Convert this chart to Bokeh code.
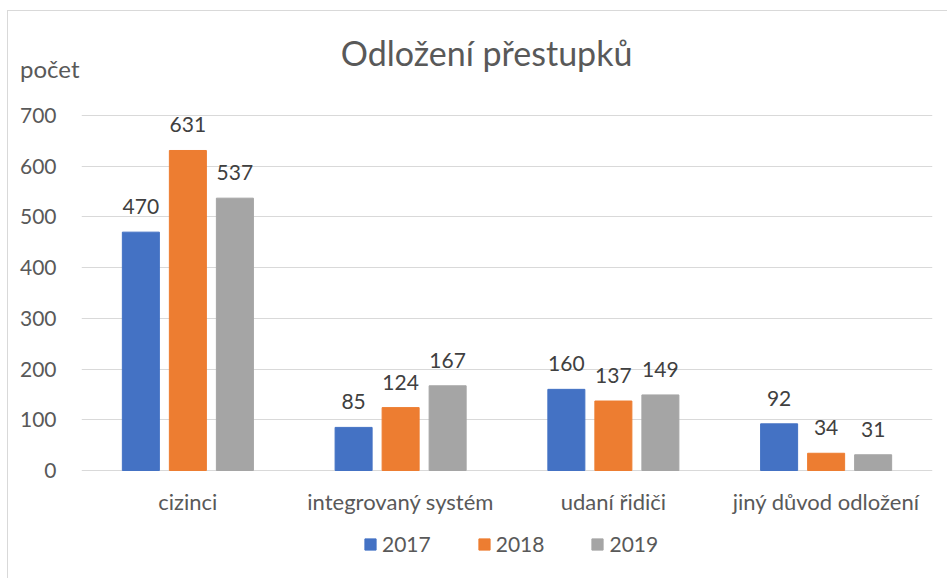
from bokeh.plotting import figure
from bokeh.models import (ColumnDataSource, FactorRange, Range1d, LabelSet, Label,
                          Legend, LegendItem, FixedTicker, LinearAxis)
from bokeh.core.properties import value
from bokeh.transform import dodge
from bokeh.embed import file_html
from bokeh.resources import INLINE

categories = ["cizinci", "integrovaný systém", "udaní řidiči", "jiný důvod odložení"]
years = ["2017", "2018", "2019"]
v2017 = [470, 85, 160, 92]
v2018 = [631, 124, 137, 34]
v2019 = [537, 167, 149, 31]
colors = ["#4472C4", "#ED7D31", "#A5A5A5"]
y_ticks = [0, 100, 200, 300, 400, 500, 600, 700]
title_text = "Odložení přestupků"
y_title = "počet"

FONT = "Lato"
TXT = "#595959"
W, H = 940, 568
# canvas pixel layout: frame spans the whole height; value 0 at y0_px, 700 at y700_px
FRAME_TOP, FRAME_BOTTOM = 19, H
y0_px, y700_px = 459, 104
px_per_unit = (y0_px - y700_px) / 700
y_start = -(FRAME_BOTTOM - y0_px) / px_per_unit
y_end = 700 + (y700_px - FRAME_TOP) / px_per_unit

src = ColumnDataSource(dict(cat=categories, v2017=v2017, v2018=v2018, v2019=v2019,
                            l2017=[str(v) for v in v2017],
                            l2018=[str(v) for v in v2018],
                            l2019=[str(v) for v in v2019]))

p = figure(x_range=FactorRange(*categories, range_padding=0),
           y_range=Range1d(y_start, y_end),
           width=W, height=H, output_backend="svg", toolbar_location=None,
           min_border_left=73, min_border_right=16, min_border_top=FRAME_TOP,
           min_border_bottom=0,
           styles={"margin-left": "7px", "margin-top": "10px",
                   "border-top": "1px solid #d9d9d9",
                   "border-left": "1px solid #d9d9d9"})
p.outline_line_color = None

offsets = [-0.221, 0.0, 0.221]
items = []
for yr, off, col in zip(years, offsets, colors):
    r = p.vbar(x=dodge("cat", off, range=p.x_range), top="v" + yr, bottom=0, width=0.174,
               source=src, fill_color=col, line_color=col)
    items.append(LegendItem(label=yr, renderers=[r]))
    p.add_layout(LabelSet(x=dodge("cat", off, range=p.x_range), y="v" + yr, text="l" + yr,
                          source=src, text_align="center", text_baseline="alphabetic",
                          y_offset=18, text_font=value(FONT), text_font_size="21px",
                          text_color="#404040"))

ticker = FixedTicker(ticks=y_ticks)
p.xgrid.grid_line_color = None
p.ygrid.ticker = ticker
p.ygrid.grid_line_color = "#d9d9d9"
p.ygrid.grid_line_width = 1

xa = p.xaxis[0]
ya = p.yaxis[0]
ya.ticker = ticker
xa.fixed_location = 0
for ax in (xa, ya):
    ax.axis_line_color = None
    ax.major_tick_line_color = None
    ax.minor_tick_line_color = None
    ax.major_tick_out = 0
    ax.major_tick_in = 0
    ax.major_label_text_font = FONT
    ax.major_label_text_color = TXT
xa.major_label_text_font_size = "22px"
ya.major_label_text_font_size = "21px"
xa.major_label_standoff = 17

# y-axis title "počet": the single label of an extra left axis placed next to the frame;
# the numeric axis sits outside it and its labels are pulled back in with a negative standoff
title_tick = 792
ta = LinearAxis(ticker=FixedTicker(ticks=[title_tick]),
                major_label_overrides={title_tick: y_title},
                axis_line_color=None, major_tick_line_color=None,
                minor_tick_line_color=None, major_tick_out=0, major_tick_in=0,
                major_label_standoff=2, major_label_text_font=FONT,
                major_label_text_font_size="24px", major_label_text_color=TXT)
p.left = [ta, ya]
ya.major_label_standoff = -39

p.add_layout(Label(x=1.904, y=824, text=title_text, text_align="center",
                   text_baseline="alphabetic", text_font=FONT, text_font_size="34px",
                   text_color=TXT))

legend = Legend(items=items, orientation="horizontal", location=(282, 23),
                border_line_color=None, background_fill_alpha=0, padding=0, margin=0,
                glyph_width=14, glyph_height=14, label_standoff=5, spacing=46,
                label_text_font=FONT, label_text_font_size="21px", label_text_color=TXT)
p.add_layout(legend, "center")

open("out.html", "w").write(file_html(p, INLINE))
